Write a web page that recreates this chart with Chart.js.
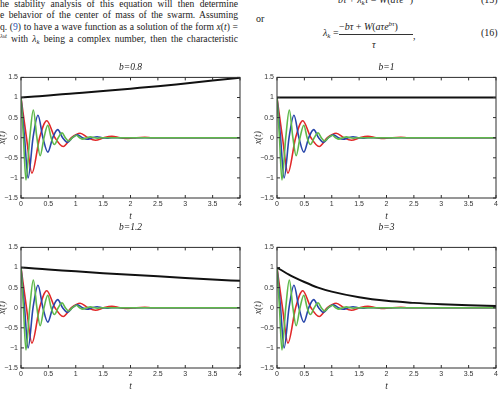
<!DOCTYPE html>
<html>
<head>
<meta charset="utf-8">
<script src="https://cdn.jsdelivr.net/npm/chart.js@4"></script>
<style>
  html, body { margin: 0; padding: 0; background: #fff; }
  #page { position: relative; width: 500px; height: 393px; overflow: hidden; background: #fff;
          font-family: "Liberation Serif", serif; color: #222; }
  .txt { position: absolute; font-size: 9.6px; line-height: 12px; white-space: nowrap; }
  .just { width: 238px; text-align: justify; text-align-last: justify; white-space: normal; }
  .sm { font-size: 70%; position: relative; }
  .panel { position: absolute; }
</style>
</head>
<body>
<div id="page">
  <!-- page text around the figure -->
  <div class="txt just" style="left:0;top:-2px">he stability analysis of this equation will then determine</div>
  <div class="txt just" style="left:0;top:9px">e behavior of the center of mass of the swarm. Assuming</div>
  <div class="txt just" style="left:0;top:21px">q. (<span style="color:#2a4fb0">9</span>) to have a wave function as a solution of the form <i>x</i>(<i>t</i>) =</div>
  <div class="txt just" style="left:0;top:33px"><span class="sm" style="top:-4px"><i>λ<span class="sm">k</span>t</i></span> with <i>λ<span class="sm" style="top:2px">k</span></i> being a complex number, then the characteristic</div>

  <div class="txt" style="left:338px;top:-6px;font-size:10px"><i>bτ</i> + <i>λ<span class="sm" style="top:2px">k</span>τ</i> = <i>W</i>(<i>aτe<span class="sm" style="top:-4px">bτ</span></i>)</div>
  <div class="txt" style="left:481px;top:-6px;font-size:10px">(15)</div>
  <div class="txt" style="left:256px;top:13px;font-size:10px">or</div>
  <div class="txt" style="left:323px;top:27px;font-size:10px"><i>λ<span class="sm" style="top:2px">k</span></i> =</div>
  <div class="txt" style="left:339px;top:21px;font-size:10px">−<i>bτ</i> + <i>W</i>(<i>aτe<span class="sm" style="top:-4px">bτ</span></i>)</div>
  <div style="position:absolute;left:339px;top:34px;width:74px;height:0;border-top:0.8px solid #333"></div>
  <div class="txt" style="left:372px;top:39px;font-size:10px"><i>τ</i></div>
  <div class="txt" style="left:413px;top:30px;font-size:10px">,</div>
  <div class="txt" style="left:481px;top:27px;font-size:10px">(16)</div>

  <canvas id="c1" class="panel" width="255" height="167" style="left:-9px;top:57px"></canvas>
  <canvas id="c2" class="panel" width="255" height="167" style="left:247px;top:57px"></canvas>
  <canvas id="c3" class="panel" width="255" height="177" style="left:-9px;top:217px"></canvas>
  <canvas id="c4" class="panel" width="255" height="177" style="left:247px;top:217px"></canvas>
</div>

<script>
// black curves (one per panel), read at these t values
const blackT   = [0, 0.25, 0.5, 0.75, 1, 1.5, 2, 2.5, 3, 3.5, 4];
const blackB08 = [1, 1.025, 1.05, 1.078, 1.105, 1.16, 1.22, 1.28, 1.35, 1.42, 1.49];
const blackB1  = [1, 1, 1, 1, 1, 1, 1, 1, 1, 1, 1];
const blackB12 = [1, 0.975, 0.952, 0.928, 0.905, 0.86, 0.82, 0.78, 0.74, 0.70, 0.67];
const blackB3  = [1, 0.8, 0.64, 0.5, 0.4, 0.26, 0.17, 0.12, 0.085, 0.06, 0.045];

// damped oscillations (same in every panel): extrema and zero crossings
const redT   = [0, 0.1, 0.2, 0.34, 0.47, 0.62, 0.77, 0.92, 1.08, 1.22, 1.36, 1.51, 1.66, 1.81, 1.96, 2.11, 2.26, 2.4, 4];
const redY   = [1, 0, -0.88, 0, 0.42, 0, -0.22, 0, 0.11, 0, -0.065, 0, 0.035, 0, -0.02, 0, 0.01, 0, 0];
const blueT  = [0, 0.065, 0.13, 0.22, 0.31, 0.4, 0.49, 0.58, 0.67, 0.76, 0.85, 0.94, 1.03, 1.12, 1.21, 1.3, 1.39, 1.48, 1.57, 1.66, 4];
const blueY  = [1, 0, -1.0, 0, 0.56, 0, -0.36, 0, 0.2, 0, -0.12, 0, 0.07, 0, -0.04, 0, 0.025, 0, -0.012, 0, 0];
const greenT = [0, 0.045, 0.09, 0.16, 0.225, 0.29, 0.35, 0.42, 0.49, 0.55, 0.61, 0.68, 0.75, 0.81, 0.87, 0.94, 1.01, 1.07, 1.13, 1.2, 1.27, 1.33, 1.39, 1.46, 4];
const greenY = [1, 0, -1.05, 0, 0.69, 0, -0.45, 0, 0.31, 0, -0.17, 0, 0.12, 0, -0.08, 0, 0.06, 0, -0.035, 0, 0.02, 0, -0.012, 0, 0];

const panelTitles = ['b=0.8', 'b=1', 'b=1.2', 'b=3'];

function pts(xs, ys) {
    return xs.map((x, i) => ({ x: x, y: ys[i] }));
}

// matlab style box with inward ticks on all four sides
const boxAxes = {
    id: 'boxAxes',
    afterDatasetsDraw(chart) {
        const { ctx, chartArea: a, scales: { x, y } } = chart;
        const len = 3;
        ctx.save();
        ctx.strokeStyle = '#2e2e2e';
        ctx.lineWidth = 1;
        ctx.strokeRect(a.left, a.top, a.right - a.left, a.bottom - a.top);
        ctx.beginPath();
        x.ticks.forEach(t => {
            const px = x.getPixelForValue(t.value);
            ctx.moveTo(px, a.bottom); ctx.lineTo(px, a.bottom - len);
            ctx.moveTo(px, a.top); ctx.lineTo(px, a.top + len);
        });
        y.ticks.forEach(t => {
            const py = y.getPixelForValue(t.value);
            ctx.moveTo(a.left, py); ctx.lineTo(a.left + len, py);
            ctx.moveTo(a.right, py); ctx.lineTo(a.right - len, py);
        });
        ctx.stroke();
        ctx.restore();
    }
};

const tickFont = { family: 'Liberation Sans', size: 7 };
const labelFont = { family: 'Liberation Serif', style: 'italic', weight: 'normal', size: 9.5 };

function makePanel(id, title, blackY, titleGap) {
    const ctx = document.getElementById(id).getContext('2d');
    return new Chart(ctx, {
        type: 'line',
        data: {
            datasets: [
                { label: title, data: pts(blackT, blackY), borderColor: '#111', borderWidth: 2, order: 0 },
                { label: 'green', data: pts(greenT, greenY), borderColor: 'rgb(95,185,75)', borderWidth: 1.6, order: 1 },
                { label: 'blue', data: pts(blueT, blueY), borderColor: 'rgb(40,70,170)', borderWidth: 1.6, order: 2 },
                { label: 'red', data: pts(redT, redY), borderColor: 'rgb(225,40,40)', borderWidth: 1.6, order: 3 }
            ]
        },
        options: {
            responsive: false,
            animation: false,
            elements: {
                point: { radius: 0 },
                line: { cubicInterpolationMode: 'monotone', fill: false }
            },
            layout: { padding: { left: 0, right: 6, top: 0, bottom: 0 } },
            plugins: {
                legend: { display: false },
                tooltip: { enabled: false },
                title: {
                    display: true, text: title, fullSize: false, color: '#222',
                    font: labelFont, padding: { top: 4.5, bottom: titleGap }
                }
            },
            scales: {
                x: {
                    type: 'linear', min: 0, max: 4,
                    ticks: {
                        stepSize: 0.5, autoSkip: false, maxRotation: 0, padding: 2, font: tickFont, color: '#333',
                        callback: v => String(v)
                    },
                    grid: { display: false, drawTicks: false },
                    border: { display: false },
                    title: { display: true, text: 't', color: '#333', font: labelFont, padding: { top: 0, bottom: 1.5 } },
                    afterFit(s) { s.height = 26; }
                },
                y: {
                    min: -1.5, max: 1.5,
                    ticks: {
                        stepSize: 0.5, autoSkip: false, padding: 3, font: tickFont, color: '#333',
                        callback: v => String(v).replace('-', '\u2212')
                    },
                    grid: { display: false, drawTicks: false },
                    border: { display: false },
                    title: { display: true, text: 'x(t)', color: '#333', font: labelFont, padding: { top: 6, bottom: 0 } },
                    afterFit(s) { s.width = 30; }
                }
            }
        },
        plugins: [boxAxes]
    });
}

makePanel('c1', panelTitles[0], blackB08, 4.5);
makePanel('c2', panelTitles[1], blackB1, 4.5);
makePanel('c3', panelTitles[2], blackB12, 14.5);
makePanel('c4', panelTitles[3], blackB3, 14.5);
</script>
</body>
</html>
